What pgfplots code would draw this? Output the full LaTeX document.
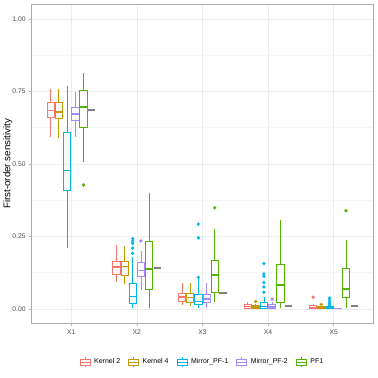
\documentclass[border=0pt]{standalone}
\usepackage{fontspec}
\setmainfont{Liberation Sans}
\usepackage{pgfplots}
\pgfplotsset{compat=1.18}
\usepgfplotslibrary{statistics}

\definecolor{ck2}{HTML}{F8766D}
\definecolor{ck4}{HTML}{C49A00}
\definecolor{cm1}{HTML}{00B6EB}
\definecolor{cm2}{HTML}{A58AFF}
\definecolor{cpf}{HTML}{53B400}
\definecolor{txt}{HTML}{4D4D4D}

% one box: colour, position, lower whisker, q1, median, q3, upper whisker, outliers
\newcommand{\bx}[8]{%
  \addplot[forget plot, draw=#1, line width=0.75bp, mark=*, mark size=1.6bp,
    mark options={solid, draw=#1, fill=#1, line width=0.2bp},
    boxplot prepared={draw position=#2, lower whisker=#3, lower quartile=#4,
      median=#5, upper quartile=#6, upper whisker=#7}] coordinates {#8};}

\pgfplotsset{
  legbox/.style={legend image code/.code={
    \draw[##1, line width=0.6bp] (0bp,-3bp) rectangle (10bp,3bp);
    \draw[##1, line width=0.6bp] (0bp,0bp) -- (10bp,0bp);
    \draw[##1, line width=0.6bp] (5bp,3bp) -- (5bp,5bp) (5bp,-3bp) -- (5bp,-5bp);}}
}

\begin{document}
\begin{tikzpicture}
\begin{axis}[
  scale only axis,
  width=342bp, height=319.7bp,
  xmin=0.4, xmax=5.6, ymin=-0.05, ymax=1.05,
  xtick={1,2,3,4,5}, xticklabels={X1,X2,X3,X4,X5},
  ytick={0,0.25,0.5,0.75,1}, yticklabels={0.00,0.25,0.50,0.75,1.00},
  minor ytick={0.125,0.375,0.625,0.875},
  /pgf/number format/assume math mode=true,
  xmajorgrids, ymajorgrids, yminorgrids,
  grid style={draw=gray!15, line width=0.5bp},
  minor grid style={draw=gray!7, line width=0.4bp},
  axis line style={draw=gray!65, line width=0.6bp},
  tick align=outside, tick pos=left,
  major tick length=2.7bp, minor tick length=0bp,
  tick style={draw=gray!60, line width=0.5bp},
  ticklabel style={font=\fontsize{6.8}{8}\selectfont, text=txt},
  every axis y label/.style={at={(axis description cs:0,0.5)}, xshift=-24bp, rotate=90, anchor=center},
  ylabel={First-order sensitivity},
  ylabel style={font=\fontsize{9.8}{11}\selectfont},
  unbounded coords=jump,
  boxplot/draw direction=y,
  boxplot/box extend=0.11,
  boxplot/whisker extend=0,
  boxplot/every median/.style={line width=1.4bp},
  legend columns=5,
  legend style={draw=none, fill=none, at={(axis description cs:0.5,-0.122)}, anchor=center,
    font=\fontsize{7}{8}\selectfont,
    /tikz/every odd column/.append style={column sep=2bp},
    /tikz/every even column/.append style={column sep=6bp}},
]
% X1
\bx{ck2}{0.6875}{0.594}{0.660}{0.683}{0.711}{0.759}{}
\bx{ck4}{0.8125}{0.588}{0.656}{0.679}{0.711}{0.759}{}
\bx{cm1}{0.9375}{0.210}{0.408}{0.477}{0.608}{0.767}{}
\bx{cm2}{1.0625}{0.591}{0.648}{0.671}{0.694}{0.748}{}
\bx{cpf}{1.1875}{0.505}{0.626}{0.696}{0.753}{0.812}{(0,0.427)}
% X2
\bx{ck2}{1.6875}{0.094}{0.119}{0.144}{0.163}{0.220}{}
\bx{ck4}{1.8125}{0.085}{0.116}{0.146}{0.163}{0.218}{}
\bx{cm1}{1.9375}{0.004}{0.019}{0.042}{0.086}{0.177}{(0,0.191) (0,0.209) (0,0.226) (0,0.234) (0,0.242)}
\bx{cm2}{2.0625}{0.063}{0.113}{0.132}{0.160}{0.198}{(0,0.234)}
\bx{cpf}{2.1875}{0.002}{0.067}{0.137}{0.234}{0.400}{}
% X3
\bx{ck2}{2.6875}{0.014}{0.026}{0.040}{0.054}{0.089}{}
\bx{ck4}{2.8125}{0.011}{0.023}{0.038}{0.054}{0.088}{}
\bx{cm1}{2.9375}{0.002}{0.014}{0.026}{0.049}{0.103}{(0,0.108) (0,0.245) (0,0.292)}
\bx{cm2}{3.0625}{0.002}{0.023}{0.034}{0.049}{0.089}{}
\bx{cpf}{3.1875}{0.023}{0.057}{0.116}{0.168}{0.274}{(0,0.348)}
% X4
\bx{ck2}{3.6875}{0.001}{0.002}{0.008}{0.015}{0.023}{}
\bx{ck4}{3.8125}{0.000}{0.001}{0.006}{0.010}{0.017}{(0,0.025)}
\bx{cm1}{3.9375}{0.000}{0.002}{0.007}{0.022}{0.040}{(0,0.057) (0,0.075) (0,0.091) (0,0.112) (0,0.120) (0,0.156)}
\bx{cm2}{4.0625}{0.000}{0.001}{0.006}{0.014}{0.023}{(0,0.033)}
\bx{cpf}{4.1875}{0.002}{0.023}{0.082}{0.153}{0.306}{}
% X5
\bx{ck2}{4.6875}{0.000}{0.001}{0.004}{0.011}{0.015}{(0,0.040)}
\bx{ck4}{4.8125}{0.000}{0.000}{0.003}{0.008}{0.010}{(0,0.015)}
\bx{cm1}{4.9375}{0.000}{0.001}{0.003}{0.008}{0.010}{(0,0.011) (0,0.017) (0,0.023) (0,0.030) (0,0.037)}
\bx{cm2}{5.0625}{0.000}{0.000}{0.001}{0.002}{0.003}{}
\bx{cpf}{5.1875}{0.002}{0.039}{0.068}{0.140}{0.236}{(0,0.338)}
% reference values
\addplot[forget plot, draw=gray, line width=1.6bp] coordinates {
  (1.2575,0.686) (1.3675,0.686) (1.3,nan)
  (2.2575,0.141) (2.3675,0.141) (2.3,nan)
  (3.2575,0.054) (3.3675,0.054) (3.3,nan)
  (4.2575,0.009) (4.3675,0.009) (4.3,nan)
  (5.2575,0.009) (5.3675,0.009)};
\addlegendimage{legbox, draw=ck2}
\addlegendimage{legbox, draw=ck4}
\addlegendimage{legbox, draw=cm1}
\addlegendimage{legbox, draw=cm2}
\addlegendimage{legbox, draw=cpf}
\legend{Kernel 2,Kernel 4,Mirror\_PF-1,Mirror\_PF-2,PF1}
\end{axis}
\path (current axis.south west) ++(-31bp,-54bp);
\path (current axis.north east) ++(5bp,4.3bp);
\end{tikzpicture}
\end{document}
